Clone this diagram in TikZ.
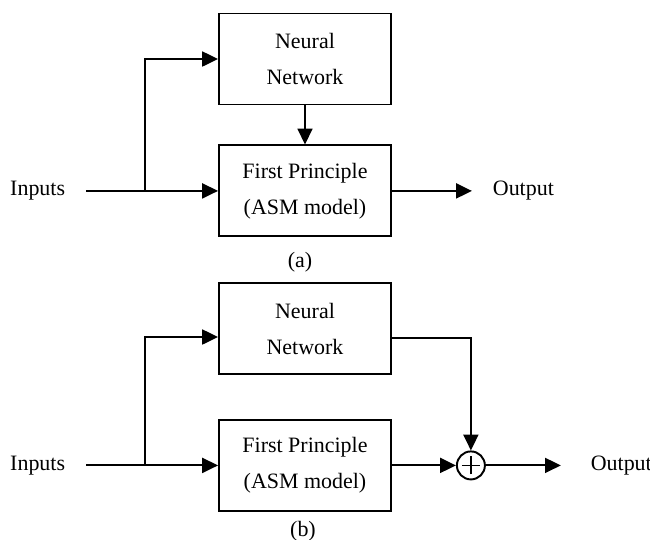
\documentclass[tikz,border=0pt]{standalone}
\usepackage{fontspec}
\setmainfont{Liberation Serif}
\usepackage{tikz}
\usetikzlibrary{arrows,arrows.meta,positioning}

\begin{document}
\begin{tikzpicture}[
			x=0.02cm, y=-0.02cm,
			>={Triangle[length=9pt,width=8.5pt]},
			line width=1.1pt,
			font=\fontsize{12.5}{20.5}\selectfont,
			block/.style={
				rectangle,
				draw=black,
				align=center,
				minimum width=3.44cm,
				minimum height=1.82cm
			},
			io/.style={
				inner xsep=0.4cm
			},
			sum/.style={
				circle,
				draw=black,
				minimum size=0.56cm,
				inner sep=0pt,
				path picture={
					\draw [line width=0.7pt]
					([xshift=-0.18cm]path picture bounding box.center) -- ([xshift=0.18cm]path picture bounding box.center)
					([yshift=-0.18cm]path picture bounding box.center) -- ([yshift=0.18cm]path picture bounding box.center);
				}
			}
			]
			\useasboundingbox (0,0) rectangle (650,539);
			
			% (a): network feeds the first principle model
			\node [block] (nnA) at (305,59) {Neural\\Network};
			\node [block, below=0.78cm of nnA] (fpA) {First Principle\\(ASM model)};
			\node [io, left=2.64cm of fpA] (inA) {Inputs};
			\node [io, right=1.6cm of fpA] (outA) {Output};
			\coordinate [right=1.18cm of inA] (splitA);
			\node (capA) at (300,262) {(a)};
			
			\draw [->] (inA) -- (fpA);
			\draw [->] (splitA) |- (nnA);
			\draw [->] (nnA) -- (fpA);
			\draw [->] (fpA) -- (outA);
			
			% (b): both outputs are added
			\node [block] (nnB) at (305,328.5) {Neural\\Network};
			\node [block, below=0.88cm of nnB] (fpB) {First Principle\\(ASM model)};
			\node [io, left=2.64cm of fpB] (inB) {Inputs};
			\node [sum, right=1.28cm of fpB] (sum) {};
			\node [io, inner xsep=0.58cm, right=1.5cm of sum] (outB) {Output};
			\coordinate [right=1.18cm of inB] (splitB);
			\node (capB) at (303,531) {(b)};
			
			\draw [->] (inB) -- (fpB);
			\draw [->] (splitB) |- ([yshift=-0.17cm]nnB.west);
			\draw [->] (fpB) -- (sum);
			\draw [->] ([yshift=-0.19cm]nnB.east) -| (sum);
			\draw [->] (sum) -- (outB);
			
			\end{tikzpicture}
\end{document}
